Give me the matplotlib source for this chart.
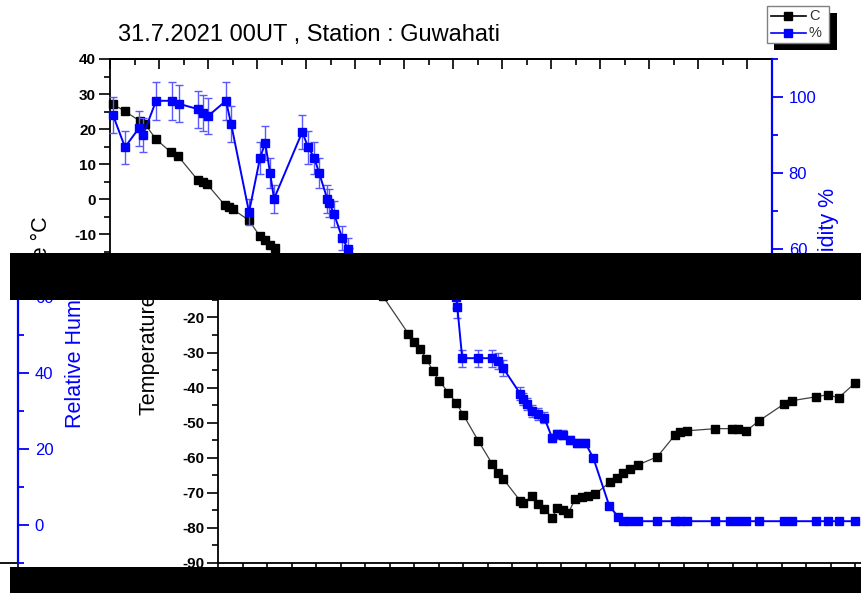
import matplotlib

matplotlib.use("Agg")
import matplotlib.pyplot as plt
from matplotlib.lines import Line2D
from matplotlib.patches import Rectangle
from matplotlib.ticker import MultipleLocator
from matplotlib.transforms import Bbox, TransformedBbox

plt.rcParams["font.family"] = ["Liberation Sans", "DejaVu Sans"]

W, H = 862, 593

TITLE = "31.7.2021 00UT , Station : Guwahati"

# temperature profile
temp_height_km = [
    0.12, 0.61, 1.22, 1.43, 1.88, 2.49, 2.78, 3.59, 3.80, 3.96,
    4.69, 4.86, 5.02, 5.67, 6.12, 6.33, 6.53, 6.73, 7.76, 8.00,
    8.24, 8.49, 8.78, 9.02, 9.39, 9.71, 10.00, 10.61, 11.18, 11.43,
    11.63, 12.33, 12.45, 12.82, 13.06, 13.31, 13.63, 13.84, 14.08, 14.29,
    14.57, 14.86, 15.10, 15.39, 16.00, 16.29, 16.53, 16.82, 17.14, 17.92,
    18.65, 18.86, 19.14, 20.29, 20.98, 21.22, 21.55, 22.08, 23.10, 23.43,
    24.41, 24.86, 25.31, 26.00,
]
temp_c = [
    27.1, 25.1, 22.3, 21.4, 17.1, 13.4, 12.3, 5.4, 4.9, 4.3,
    -1.7, -2.3, -2.9, -6.0, -10.6, -11.7, -12.9, -14.0, -24.6, -27.1,
    -28.9, -31.7, -35.4, -38.0, -41.4, -44.3, -47.7, -55.1, -61.7, -64.3,
    -66.0, -72.3, -72.9, -70.9, -73.1, -74.6, -77.1, -74.3, -74.9, -75.7,
    -71.7, -71.1, -70.9, -70.3, -66.9, -65.7, -64.3, -63.1, -62.0, -59.7,
    -53.4, -52.6, -52.3, -51.7, -51.7, -51.7, -52.3, -49.4, -44.6, -43.7,
    -42.6, -42.0, -42.9, -38.6,
]

# relative humidity profile
rh_height_km = [
    0.12, 0.61, 1.18, 1.35, 1.88, 2.53, 2.82, 3.59, 3.80, 4.00,
    4.73, 4.94, 5.67, 6.12, 6.33, 6.53, 6.69, 7.84, 8.08, 8.33,
    8.53, 8.86, 8.94, 9.14, 9.47, 9.71, 9.76, 9.96, 10.61, 11.18,
    11.43, 11.63, 12.33, 12.45, 12.61, 12.82, 13.06, 13.31, 13.63, 13.84,
    14.08, 14.37, 14.65, 14.98, 15.31, 15.96, 16.33, 16.53, 16.82, 17.14,
    17.92, 18.65, 18.86, 19.14, 20.29, 20.90, 21.22, 21.55, 22.08, 23.10,
    23.43, 24.41, 24.86, 25.31, 26.00,
]
rh_pct = [
    95.3, 86.8, 91.8, 90.0, 99.0, 99.0, 98.2, 96.8, 95.8, 95.0,
    99.0, 92.9, 69.7, 84.0, 87.9, 80.0, 73.2, 90.8, 86.8, 84.0,
    80.0, 73.2, 72.1, 69.2, 62.9, 60.0, 57.4, 43.9, 43.9, 43.9,
    43.2, 41.3, 34.5, 33.2, 31.8, 30.0, 29.2, 28.2, 22.9, 23.9,
    23.7, 22.4, 21.6, 21.6, 17.6, 5.0, 2.1, 1.0, 1.0, 1.0,
    1.0, 1.0, 1.0, 1.0, 1.0, 1.0, 1.0, 1.0, 1.0, 1.0,
    1.0, 1.0, 1.0, 1.0, 1.0,
]
RH_ERR_FRAC = 0.05  # percentage error bars on humidity

temp_ticks = list(range(-90, 41, 10))
rh_ticks = list(range(0, 101, 20))

BLUE = "#0000ff"

fig = plt.figure(figsize=(W / 100, H / 100), dpi=100)
fig.patch.set_facecolor("white")


def fpos(x, y, dx, dy):
    """Pixel position (origin top-left) to figure fraction, with an offset."""
    return (x + dx) / W, 1 - (y + dy) / H


def draw_sounding(dx, dy):
    left, right, top, bottom = 110, 772, 59, 515
    x0, y0 = fpos(left, bottom, dx, dy)
    ax = fig.add_axes([x0, y0, (right - left) / W, (bottom - top) / H])
    ax.set_facecolor("none")

    ax.plot(temp_height_km, temp_c, "-s", color="#404040", lw=0.9,
            mfc="black", mec="black", ms=5.5, zorder=3)
    ax.set_xlim(0, 27)
    ax.set_ylim(-90, 40)
    ax.xaxis.set_major_locator(MultipleLocator(2))
    ax.xaxis.set_minor_locator(MultipleLocator(1))
    ax.set_yticks(temp_ticks, [str(v) for v in temp_ticks], fontweight="bold")
    ax.yaxis.set_minor_locator(MultipleLocator(5))
    ax.tick_params(axis="y", which="major", direction="out", length=8, width=1.2,
                   labelsize=11, pad=2)
    ax.tick_params(axis="y", which="minor", direction="out", length=4, width=1.2)
    ax.tick_params(axis="x", which="major", direction="out", length=7, width=1.2,
                   labelsize=10)
    ax.tick_params(axis="x", which="minor", direction="out", length=7, width=1.2)
    ax.set_xlabel("Height (km)", fontsize=14)
    for side in ("left", "bottom", "top"):
        ax.spines[side].set_linewidth(1.3)
    ax.spines["right"].set_visible(False)

    top_ax = ax.secondary_xaxis("top")
    top_ax.xaxis.set_major_locator(MultipleLocator(2))
    top_ax.xaxis.set_minor_locator(MultipleLocator(1))
    top_ax.tick_params(which="major", direction="in", length=7, width=1.2, labeltop=False)
    top_ax.tick_params(which="minor", direction="in", length=4, width=1.2)
    top_ax.spines["top"].set_linewidth(1.3)

    tw = ax.twinx()
    tw.set_facecolor("none")
    tw.errorbar(rh_height_km, rh_pct, yerr=[v * RH_ERR_FRAC for v in rh_pct],
                fmt="-s", color=BLUE, lw=1.4, ms=6, mfc=BLUE, mec=BLUE,
                ecolor=(0.35, 0.35, 1.0), elinewidth=1.0, capsize=3, capthick=1.0,
                zorder=4)
    tw.set_ylim(-10, 110)
    tw.set_yticks(rh_ticks, [str(v) for v in rh_ticks])
    tw.yaxis.set_minor_locator(MultipleLocator(10))
    tw.tick_params(axis="y", which="major", direction="out", length=8, width=1.3,
                   colors=BLUE, labelsize=12, pad=4)
    tw.tick_params(axis="y", which="minor", direction="out", length=4, width=1.3,
                   colors=BLUE)
    for side in ("left", "top", "bottom"):
        tw.spines[side].set_visible(False)
    tw.spines["right"].set_color(BLUE)
    tw.spines["right"].set_linewidth(1.6)

    extras = []
    tx, ty = fpos(41, 292, dx, dy)
    extras.append(fig.text(tx, ty, "Temperature °C", rotation=90, ha="center",
                           va="center", fontsize=15.5))
    rx, ry = fpos(829, 284, dx, dy)
    extras.append(fig.text(rx, ry, "Relative Humidity %", rotation=90, ha="center",
                           va="center", fontsize=15.5, color=BLUE))
    hx, hy = fpos(118, 41, dx, dy)
    extras.append(fig.text(hx, hy, TITLE, ha="left", va="baseline", fontsize=17))

    # legend box with drop shadow
    sx, sy = fpos(774, 50, dx, dy)
    extras.append(fig.add_artist(Rectangle((sx, sy), 63 / W, 37 / H, transform=fig.transFigure,
                                           facecolor="black", edgecolor="none", zorder=5)))
    bx, by = fpos(767, 43, dx, dy)
    extras.append(fig.add_artist(Rectangle((bx, by), 62 / W, 37 / H, transform=fig.transFigure,
                                           facecolor="white", edgecolor="#808080", lw=1,
                                           zorder=6)))
    for row_y, color, label in ((16, "black", "C"), (33, BLUE, "%")):
        xa, ya = fpos(771, row_y, dx, dy)
        xm, _ = fpos(788, row_y, dx, dy)
        xb, _ = fpos(806, row_y, dx, dy)
        extras.append(fig.add_artist(Line2D([xa, xm, xb], [ya, ya, ya], transform=fig.transFigure,
                                            color=color, lw=1.2, marker="s", ms=5.5,
                                            markevery=[1], zorder=7)))
        lx, _ = fpos(809, row_y, dx, dy)
        extras.append(fig.text(lx, ya, label, ha="left", va="center", fontsize=10.5,
                               color="#333333", zorder=7))
    return [ax, tw], extras


def clip_rows(axes_list, extras, y_from, y_to):
    """Limit everything of one drawing to a horizontal strip of the canvas."""
    box = TransformedBbox(Bbox([[0, 1 - y_to / H], [1, 1 - y_from / H]]), fig.transFigure)
    objs = []
    for a in axes_list:
        objs.extend(a.findobj())
    for e in extras:
        objs.extend(e.findobj())
    for o in objs:
        o.set_clip_box(box)
        o.set_clip_on(True)


panels = [
    (draw_sounding(0, 0), 0, 276),
    (draw_sounding(108, 48), 276, H),
    (draw_sounding(108 - W, 48), 276, H),
]

fig.canvas.draw()
for (axes_list, extras), y_from, y_to in panels:
    clip_rows(axes_list, extras, y_from, y_to)

# black bands across the canvas
for y_a, y_b in ((253, 300), (567, H)):
    fig.add_artist(Rectangle((10 / W, 1 - y_b / H), 1, (y_b - y_a) / H,
                             transform=fig.transFigure, facecolor="black",
                             edgecolor="none", zorder=20))

fig.savefig("out.png", dpi=100, facecolor="white")
